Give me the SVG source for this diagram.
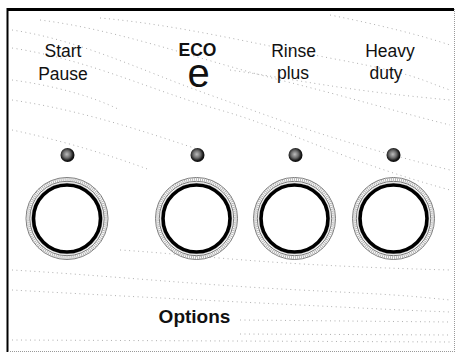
<svg xmlns="http://www.w3.org/2000/svg" width="456" height="354" viewBox="0 0 456 354">
<style>
.lbl{font-family:"Liberation Sans",Arial,sans-serif;font-size:17.5px;fill:#111;text-anchor:middle}
.bold{font-weight:bold}
.tex{fill:none;stroke:#9a9a9a;stroke-width:0.8;stroke-dasharray:1 3.5}
.halo{fill:none;stroke:#777;stroke-width:1}
.band{fill:none;stroke:#b5b5b5;stroke-width:3;stroke-dasharray:1 1}
.ring{fill:none;stroke:#000;stroke-width:3.6}
</style>
<defs>
<radialGradient id="led" cx="0.45" cy="0.45" r="0.6">
<stop offset="0" stop-color="#bdbdbd"/>
<stop offset="0.45" stop-color="#6a6a6a"/>
<stop offset="0.75" stop-color="#1a1a1a"/>
<stop offset="1" stop-color="#000"/>
</radialGradient>
<g id="btn">
<circle r="41" class="halo" stroke="#999"/>
<circle r="39.2" class="band"/>
<circle r="37.2" class="halo"/>
<circle r="35.6" fill="none" stroke="#c8c8c8" stroke-width="0.8"/>
<circle r="33.5" class="ring"/>
</g>
</defs>
<rect x="0" y="0" width="456" height="354" fill="#fff"/>
<g id="texture">
<path class="tex" d="M12 30 C80 40 140 70 210 95 S330 140 450 170"/>
<path class="tex" d="M12 48 C90 60 150 90 220 110 S340 160 450 190"/>
<path class="tex" d="M40 20 C120 30 200 60 280 80 S390 110 450 125"/>
<path class="tex" d="M100 18 C180 25 260 45 340 60 S420 80 450 90"/>
<path class="tex" d="M12 100 C80 110 140 130 200 150"/>
<path class="tex" d="M12 130 C60 140 110 155 150 170"/>
<path class="tex" d="M12 270 C100 275 200 285 300 290 S400 295 450 300"/>
<path class="tex" d="M12 290 C100 295 200 300 300 305 S400 310 450 312"/>
<path class="tex" d="M240 320 L450 322"/>
<path class="tex" d="M240 334 L450 335"/>
<path class="tex" d="M12 340 L450 342"/>
<path class="tex" d="M330 15 C380 25 420 35 450 45"/>
<path class="tex" d="M230 70 C300 80 340 90 450 100"/>
<path class="tex" d="M120 250 C200 255 260 265 450 270"/>
<path class="tex" d="M12 80 C50 85 90 95 120 110"/>
</g>
<g id="frame">
<line x1="8" y1="9.5" x2="454" y2="9.5" stroke="#000" stroke-width="3"/>
<line x1="7.5" y1="8" x2="7.5" y2="352" stroke="#000" stroke-width="2"/>
<line x1="8" y1="351.5" x2="454" y2="351.5" stroke="#999" stroke-width="1" stroke-dasharray="1 1"/>
<line x1="454.5" y1="9" x2="454.5" y2="352" stroke="#999" stroke-width="1" stroke-dasharray="1 1"/>
</g>
<g id="connectors"/>
<g id="start-pause">
<text class="lbl" x="63" y="57">Start</text>
<text class="lbl" x="63" y="80">Pause</text>
<circle cx="67.5" cy="155" r="7" fill="url(#led)"/>
<use href="#btn" x="67" y="218.5"/>
</g>
<g id="eco">
<text class="lbl bold" x="197.5" y="55.5">ECO</text>
<text class="lbl" x="198.5" y="87" style="font-size:40px">e</text>
<circle cx="197.5" cy="155" r="7" fill="url(#led)"/>
<use href="#btn" x="196.5" y="218.5"/>
</g>
<g id="rinse-plus">
<text class="lbl" x="293.5" y="57">Rinse</text>
<text class="lbl" x="293" y="79">plus</text>
<circle cx="295.5" cy="155" r="7" fill="url(#led)"/>
<use href="#btn" x="294.5" y="218.5"/>
</g>
<g id="heavy-duty">
<text class="lbl" x="390" y="57">Heavy</text>
<text class="lbl" x="386" y="79">duty</text>
<circle cx="393.5" cy="155" r="7" fill="url(#led)"/>
<use href="#btn" x="393.5" y="218.5"/>
</g>
<g id="options">
<text class="lbl bold" x="194.5" y="323" style="font-size:19px">Options</text>
</g>
</svg>
